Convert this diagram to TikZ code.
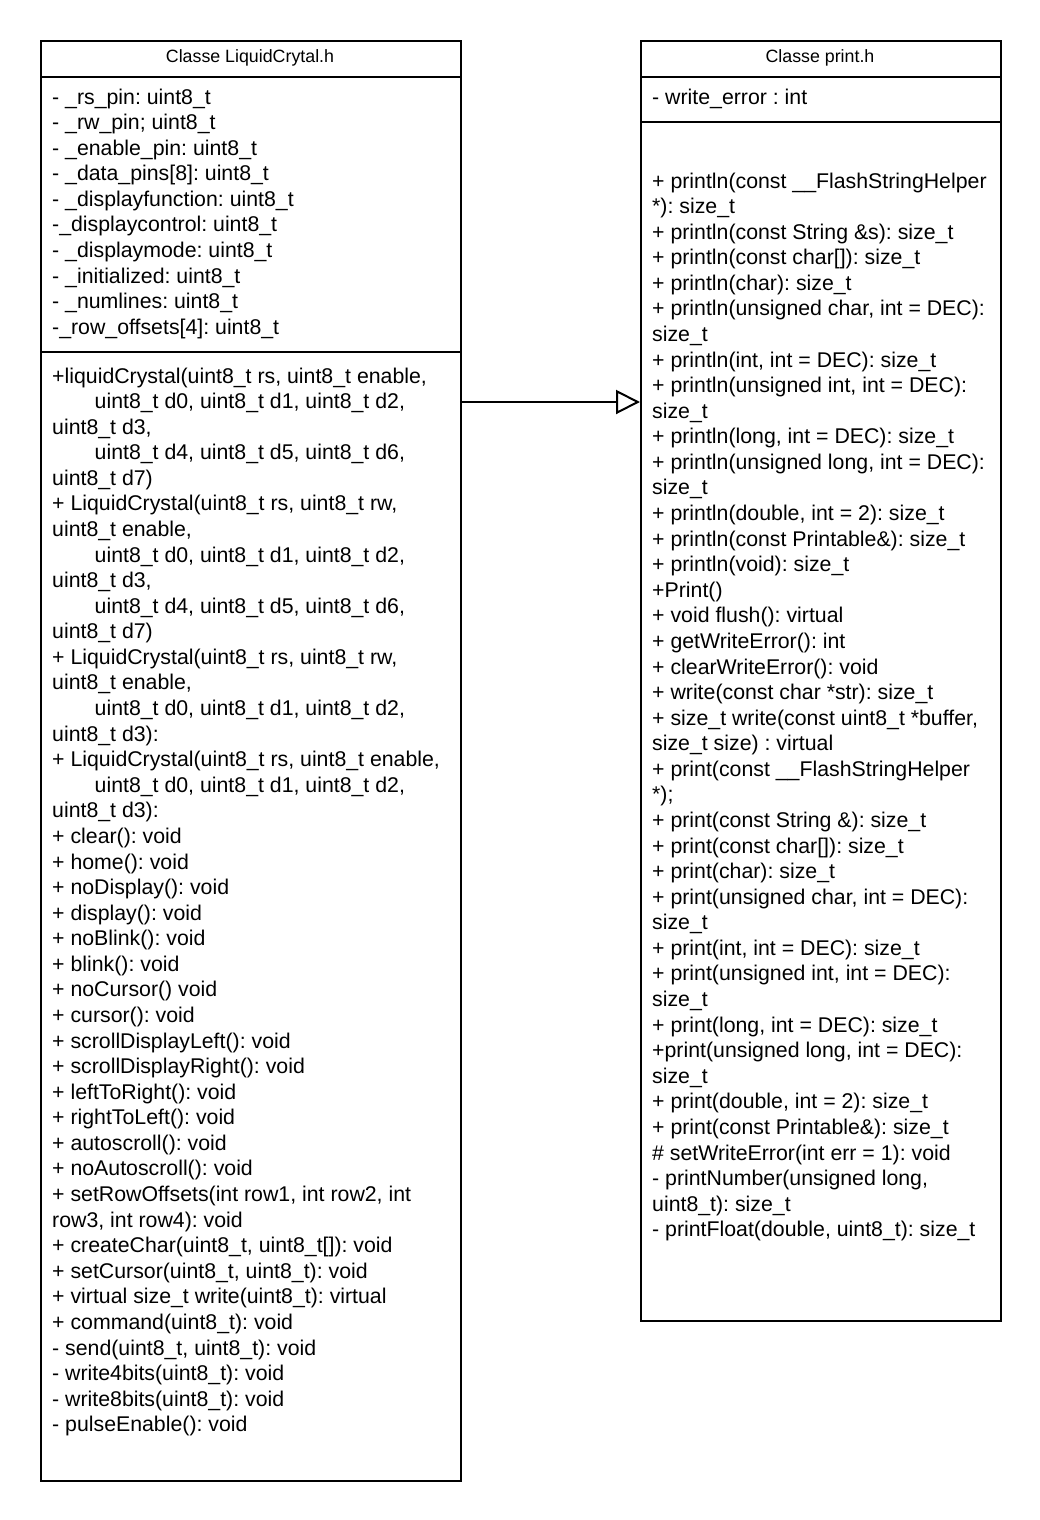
\documentclass[tikz,border=0pt]{standalone}
\usepackage{fontspec}
\setmainfont{Liberation Sans}
\usetikzlibrary{arrows.meta}
\frenchspacing
\begin{document}
\begin{tikzpicture}[x=1pt,y=-1pt,
  classbox/.style={draw,line width=2pt,inner sep=0pt,anchor=north west,fill=none},
  divider/.style={line width=2pt},
  title/.style={font=\fontsize{17.8}{20}\selectfont,inner sep=0pt,anchor=base},
  entry/.style={font=\fontsize{21.3}{24}\selectfont,inner sep=0pt,anchor=base west},
  inherit/.style={line width=2pt,-{Triangle[length=24pt,width=24pt,fill=white,line width=2pt]}}]
\useasboundingbox (0,0) rectangle (1040,1520);
\fill[white] (0,0) rectangle (1040,1520);

% class boxes
\node[classbox,minimum width=420pt,minimum height=1440pt] (lc) at (40,40) {};
\node[classbox,minimum width=360pt,minimum height=1280pt] (pr) at (640,40) {};

% compartment separators
\coordinate (l1) at (0,77);
\coordinate (l2) at (0,352);
\coordinate (r2) at (0,122);
\draw[divider] (lc.west |- l1) -- (lc.east |- l1);
\draw[divider] (lc.west |- l2) -- (lc.east |- l2);
\draw[divider] (pr.west |- l1) -- (pr.east |- l1);
\draw[divider] (pr.west |- r2) -- (pr.east |- r2);

% titles
\node[title] (lct) at (250,63) {Classe LiquidCrytal.h};
\node[title] (prt) at (820,63) {Classe print.h};

\def\ind{\hspace*{42.5pt}}

% LiquidCrystal attributes
\foreach \t [count=\i] in {
  {- \_rs\_pin: uint8\_t},
  {- \_rw\_pin; uint8\_t},
  {- \_enable\_pin: uint8\_t},
  {- \_data\_pins[8]: uint8\_t},
  {- \_displayfunction: uint8\_t},
  {-\_displaycontrol: uint8\_t},
  {- \_displaymode: uint8\_t},
  {- \_initialized: uint8\_t},
  {- \_numlines: uint8\_t},
  {-\_row\_offsets[4]: uint8\_t}}
  \node[entry] (la\i) at (52,{104+25.58*(\i-1)}) {\t};

% LiquidCrystal operations
\foreach \t [count=\i] in {
  {+liquidCrystal(uint8\_t rs, uint8\_t enable,},
  {\ind uint8\_t d0, uint8\_t d1, uint8\_t d2,},
  {uint8\_t d3,},
  {\ind uint8\_t d4, uint8\_t d5, uint8\_t d6,},
  {uint8\_t d7)},
  {+ LiquidCrystal(uint8\_t rs, uint8\_t rw,},
  {uint8\_t enable,},
  {\ind uint8\_t d0, uint8\_t d1, uint8\_t d2,},
  {uint8\_t d3,},
  {\ind uint8\_t d4, uint8\_t d5, uint8\_t d6,},
  {uint8\_t d7)},
  {+ LiquidCrystal(uint8\_t rs, uint8\_t rw,},
  {uint8\_t enable,},
  {\ind uint8\_t d0, uint8\_t d1, uint8\_t d2,},
  {uint8\_t d3):},
  {+ LiquidCrystal(uint8\_t rs, uint8\_t enable,},
  {\ind uint8\_t d0, uint8\_t d1, uint8\_t d2,},
  {uint8\_t d3):},
  {+ clear(): void},
  {+ home(): void},
  {+ noDisplay(): void},
  {+ display(): void},
  {+ noBlink(): void},
  {+ blink(): void},
  {+ noCursor() void},
  {+ cursor(): void},
  {+ scrollDisplayLeft(): void},
  {+ scrollDisplayRight(): void},
  {+ leftToRight(): void},
  {+ rightToLeft(): void},
  {+ autoscroll(): void},
  {+ noAutoscroll(): void},
  {+ setRowOffsets(int row1, int row2, int},
  {row3, int row4): void},
  {+ createChar(uint8\_t, uint8\_t[]): void},
  {+ setCursor(uint8\_t, uint8\_t): void},
  {+ virtual size\_t write(uint8\_t): virtual},
  {+ command(uint8\_t): void},
  {- send(uint8\_t, uint8\_t): void},
  {- write4bits(uint8\_t): void},
  {- write8bits(uint8\_t): void},
  {- pulseEnable(): void}}
  \node[entry] (lm\i) at (52,{383+25.58*(\i-1)}) {\t};

% Print attributes
\node[entry] (pa1) at (652,104) {- write\_error : int};

% Print operations
\foreach \t [count=\i] in {
  {+ println(const \_\_FlashStringHelper},
  {*): size\_t},
  {+ println(const String \&s): size\_t},
  {+ println(const char[]): size\_t},
  {+ println(char): size\_t},
  {+ println(unsigned char, int = DEC):},
  {size\_t},
  {+ println(int, int = DEC): size\_t},
  {+ println(unsigned int, int = DEC):},
  {size\_t},
  {+ println(long, int = DEC): size\_t},
  {+ println(unsigned long, int = DEC):},
  {size\_t},
  {+ println(double, int = 2): size\_t},
  {+ println(const Printable\&): size\_t},
  {+ println(void): size\_t},
  {+Print()},
  {+ void flush(): virtual},
  {+ getWriteError(): int},
  {+ clearWriteError(): void},
  {+ write(const char *str): size\_t},
  {+ size\_t write(const uint8\_t *buffer,},
  {size\_t size) : virtual},
  {+ print(const \_\_FlashStringHelper},
  {*);},
  {+ print(const String \&): size\_t},
  {+ print(const char[]): size\_t},
  {+ print(char): size\_t},
  {+ print(unsigned char, int = DEC):},
  {size\_t},
  {+ print(int, int = DEC): size\_t},
  {+ print(unsigned int, int = DEC):},
  {size\_t},
  {+ print(long, int = DEC): size\_t},
  {+print(unsigned long, int = DEC):},
  {size\_t},
  {+ print(double, int = 2): size\_t},
  {+ print(const Printable\&): size\_t},
  {\# setWriteError(int err = 1): void},
  {- printNumber(unsigned long,},
  {uint8\_t): size\_t},
  {- printFloat(double, uint8\_t): size\_t}}
  \node[entry] (pm\i) at (652,{188+25.58*(\i-1)}) {\t};

% generalisation LiquidCrystal -> Print
\coordinate (ay) at (0,402);
\draw[inherit] (lc.east |- ay) -- (pr.west |- ay);
\end{tikzpicture}
\end{document}
